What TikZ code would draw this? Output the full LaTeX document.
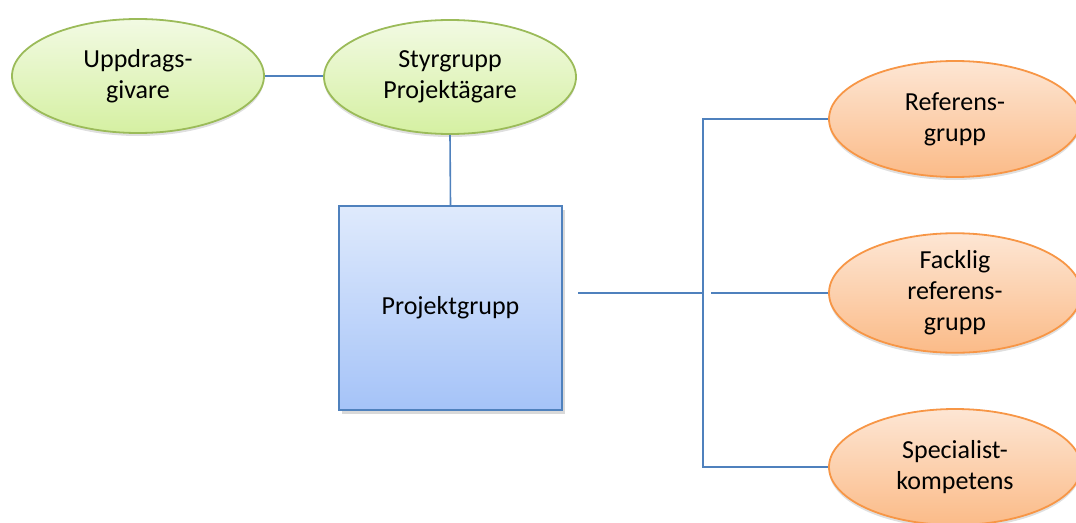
\documentclass[tikz,border=0pt]{standalone}
\usepackage{fontspec}
\setmainfont{Carlito}
\usetikzlibrary{shapes.geometric,shadows}
\definecolor{lineblue}{HTML}{4F81BD}
\definecolor{gtop}{HTML}{F2FAE3}
\definecolor{gbot}{HTML}{D5F0A2}
\definecolor{gbord}{HTML}{9BBB59}
\definecolor{otop}{HTML}{FDE6D4}
\definecolor{obot}{HTML}{FBBB88}
\definecolor{obord}{HTML}{F79646}
\definecolor{btop}{HTML}{DFEAFC}
\definecolor{bbot}{HTML}{A5C3F8}
\tikzset{
  lbl/.style={font=\fontsize{26}{31}\selectfont, align=center, text=black},
  greenell/.style={lbl, ellipse, draw=gbord, line width=1.8pt, top color=gtop, bottom color=gbot,
    minimum width=252pt, minimum height=114pt, inner sep=0pt,
    drop shadow={shadow xshift=0pt, shadow yshift=-3pt, opacity=0.25}},
  orangeell/.style={lbl, ellipse, draw=obord, line width=1.8pt, top color=otop, bottom color=obot,
    minimum width=252pt, minimum height=116pt, inner sep=0pt,
    drop shadow={shadow xshift=0pt, shadow yshift=-3pt, opacity=0.25}},
  boxnode/.style={lbl, rectangle, draw=lineblue, line width=1.6pt, top color=btop, bottom color=bbot,
    minimum width=223pt, minimum height=204pt, inner sep=0pt,
    drop shadow={shadow xshift=3pt, shadow yshift=-4pt, opacity=0.3}},
  conn/.style={draw=lineblue, line width=1.6pt},
  mainconn/.style={draw=lineblue, line width=2.4pt},
}
\begin{document}
\begin{tikzpicture}[x=1pt,y=-1pt]
\useasboundingbox (0,0) rectangle (1076,522);
\node[greenell] (U) at (138,76) {Uppdrags-\\givare};
\node[greenell] (S) at (450,77) {Styrgrupp\\Projektägare};
\node[boxnode] (P) at (450.5,308) {Projektgrupp};
\node[orangeell] (R) at (955,119) {Referens-\\grupp};
\node[orangeell] (F) at (955,293) {Facklig\\referens-\\grupp};
\node[orangeell] (Sp) at (955,467) {Specialist-\\kompetens};
\coordinate (j0) at (578,293);
\coordinate (jv) at (703,293);
\coordinate (vt) at (703,119);
\coordinate (vb) at (703,467);
\coordinate (fs) at (711,293);
\draw[conn] (U.east) -- (U.east -| S.west);
\draw[conn] (S.south) -- (P.north);
\draw[mainconn] (j0) -- (jv);
\draw[conn] (R.west) -- (vt) -- (vb) -- (Sp.west);
\draw[conn] (fs) -- (F.west);
\end{tikzpicture}
\end{document}
